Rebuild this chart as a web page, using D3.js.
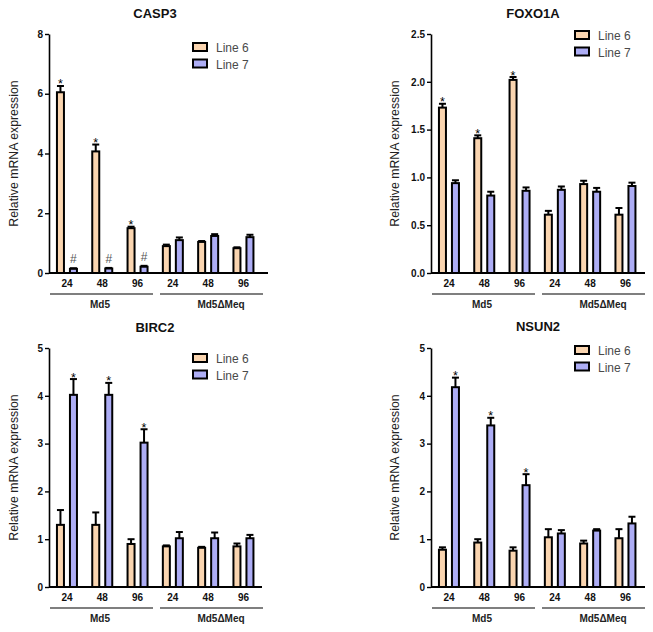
<!DOCTYPE html>
<html>
<head>
<meta charset="utf-8">
<script src="https://cdn.jsdelivr.net/npm/d3@7/dist/d3.min.js"></script>
<style>
  html, body { margin: 0; padding: 0; background: #ffffff; }
  svg { display: block; font-family: "Liberation Sans", Arial, sans-serif; }
</style>
</head>
<body>
<svg id="chart" width="653" height="632"></svg>
<script>
// ---------- data ----------
const timepoints = ["24", "48", "96", "24", "48", "96"];
const groupNames = ["Md5", "Md5\u0394Meq"];
const seriesNames = ["Line 6", "Line 7"];

const casp3Line6 = [6.05, 4.07, 1.50, 0.90, 1.04, 0.83];
const casp3Line6Err = [0.21, 0.23, 0.05, 0.05, 0.03, 0.03];
const casp3Line7 = [0.14, 0.15, 0.21, 1.10, 1.24, 1.20];
const casp3Line7Err = [0.02, 0.02, 0.03, 0.09, 0.06, 0.08];
const casp3Line6Marks = ["*", "*", "*", "", "", ""];
const casp3Line7Marks = ["#", "#", "#", "", "", ""];
const casp3Ticks = [0, 2, 4, 6, 8];

const foxo1aLine6 = [1.73, 1.41, 2.02, 0.61, 0.93, 0.61];
const foxo1aLine6Err = [0.04, 0.03, 0.03, 0.04, 0.035, 0.07];
const foxo1aLine7 = [0.94, 0.81, 0.86, 0.87, 0.85, 0.91];
const foxo1aLine7Err = [0.03, 0.04, 0.035, 0.035, 0.04, 0.035];
const foxo1aLine6Marks = ["*", "*", "*", "", "", ""];
const foxo1aLine7Marks = ["", "", "", "", "", ""];
const foxo1aTicks = [0, 0.5, 1.0, 1.5, 2.0, 2.5];

const birc2Line6 = [1.30, 1.30, 0.90, 0.85, 0.82, 0.85];
const birc2Line6Err = [0.31, 0.26, 0.10, 0.02, 0.02, 0.06];
const birc2Line7 = [4.02, 4.02, 3.02, 1.02, 1.02, 1.02];
const birc2Line7Err = [0.33, 0.25, 0.28, 0.13, 0.12, 0.07];
const birc2Line6Marks = ["", "", "", "", "", ""];
const birc2Line7Marks = ["*", "*", "*", "", "", ""];
const birc2Ticks = [0, 1, 2, 3, 4, 5];

const nsun2Line6 = [0.78, 0.93, 0.76, 1.04, 0.91, 1.02];
const nsun2Line6Err = [0.05, 0.07, 0.07, 0.17, 0.06, 0.19];
const nsun2Line7 = [4.18, 3.38, 2.13, 1.12, 1.18, 1.33];
const nsun2Line7Err = [0.20, 0.16, 0.23, 0.07, 0.03, 0.14];
const nsun2Line6Marks = ["", "", "", "", "", ""];
const nsun2Line7Marks = ["*", "*", "*", "", "", ""];
const nsun2Ticks = [0, 1, 2, 3, 4, 5];

// ---------- layout / style ----------
const colors = ["#FAD5B0", "#ADADF5"];
const panels = [
  { title: "CASP3", left: 49, right: 268, top: 34, bottom: 273, yMax: 8, ticks: casp3Ticks, fmt: d3.format("d"),
    titleX: 155, titleY: 18, legX: 192, legY: 42, ylabX: 18,
    vals: [casp3Line6, casp3Line7], errs: [casp3Line6Err, casp3Line7Err], marks: [casp3Line6Marks, casp3Line7Marks] },
  { title: "FOXO1A", left: 431, right: 645, top: 34, bottom: 273, yMax: 2.5, ticks: foxo1aTicks, fmt: d3.format(".1f"),
    titleX: 533, titleY: 18, legX: 574, legY: 30, ylabX: 399,
    vals: [foxo1aLine6, foxo1aLine7], errs: [foxo1aLine6Err, foxo1aLine7Err], marks: [foxo1aLine6Marks, foxo1aLine7Marks] },
  { title: "BIRC2", left: 49, right: 262, top: 348, bottom: 587, yMax: 5, ticks: birc2Ticks, fmt: d3.format("d"),
    titleX: 155, titleY: 332, legX: 192, legY: 353, ylabX: 18,
    vals: [birc2Line6, birc2Line7], errs: [birc2Line6Err, birc2Line7Err], marks: [birc2Line6Marks, birc2Line7Marks] },
  { title: "NSUN2", left: 431, right: 645, top: 348, bottom: 587, yMax: 5, ticks: nsun2Ticks, fmt: d3.format("d"),
    titleX: 538, titleY: 331, legX: 574, legY: 345, ylabX: 399,
    vals: [nsun2Line6, nsun2Line7], errs: [nsun2Line6Err, nsun2Line7Err], marks: [nsun2Line6Marks, nsun2Line7Marks] }
];

const svg = d3.select("#chart");
const catIdx = d3.range(timepoints.length);

panels.forEach(p => {
  const g = svg.append("g");
  const y = d3.scaleLinear().domain([0, p.yMax]).range([p.bottom, p.top]);
  const groupStep = 35.3;
  const x = d3.scaleBand().domain(catIdx).range([p.left + 0.3, p.left + 0.3 + groupStep * 6]).padding(0);
  const inner = d3.scaleBand().domain([0, 1]).range([-11, 11]).paddingInner(4 / 13).paddingOuter(0);
  const cx = i => x(i) + x.bandwidth() / 2;

  // title
  g.append("text").attr("x", p.titleX).attr("y", p.titleY).attr("text-anchor", "middle")
    .attr("font-size", 13).attr("font-weight", "bold").attr("fill", "#111").text(p.title);

  // y label
  g.append("text")
    .attr("transform", `translate(${p.ylabX},${(p.top + p.bottom) / 2}) rotate(-90)`)
    .attr("text-anchor", "middle").attr("font-size", 12.3).attr("fill", "#222")
    .text("Relative mRNA expression");

  // bars
  [0, 1].forEach(s => {
    const bw = inner.bandwidth();
    const bars = g.append("g");
    catIdx.forEach(i => {
      const v = p.vals[s][i], e = p.errs[s][i];
      const bx = cx(i) + inner(s);
      const bxm = bx + bw / 2;
      // error bar (upper)
      bars.append("line").attr("x1", bxm).attr("x2", bxm).attr("y1", y(v)).attr("y2", y(v + e))
        .attr("stroke", "#000").attr("stroke-width", 2);
      bars.append("line").attr("x1", bxm - 3.5).attr("x2", bxm + 3.5).attr("y1", y(v + e)).attr("y2", y(v + e))
        .attr("stroke", "#000").attr("stroke-width", 2);
      bars.append("rect").attr("x", bx + 1).attr("y", y(v))
        .attr("width", bw - 2).attr("height", y(0) - y(v))
        .attr("fill", colors[s]).attr("stroke", "#000").attr("stroke-width", 2);
      const m = p.marks[s][i];
      if (m === "*") {
        bars.append("text").attr("x", bxm).attr("y", y(v + e) + 2.5).attr("text-anchor", "middle")
          .attr("font-size", 12.5).attr("fill", "#000").text(m);
      } else if (m === "#") {
        bars.append("text").attr("x", bxm).attr("y", y(v + e) - 5).attr("text-anchor", "middle")
          .attr("font-size", 12).attr("fill", "#555").text(m);
      }
    });
  });

  // y axis
  const ya = g.append("g").attr("transform", `translate(${p.left},0)`)
    .call(d3.axisLeft(y).tickValues(p.ticks).tickFormat(p.fmt).tickSize(4).tickPadding(2).tickSizeOuter(0));
  ya.select(".domain").attr("stroke", "#000").attr("stroke-width", 1.6);
  ya.selectAll(".tick line").attr("stroke", "#000").attr("stroke-width", 1.4);
  ya.selectAll(".tick text").attr("font-size", 10).attr("font-weight", "bold").attr("fill", "#111")
    .attr("font-family", "Liberation Sans, Arial, sans-serif");

  // x axis line
  g.append("line").attr("x1", p.left).attr("x2", p.right).attr("y1", p.bottom).attr("y2", p.bottom)
    .attr("stroke", "#000").attr("stroke-width", 1.8);

  // x tick labels
  catIdx.forEach(i => {
    g.append("text").attr("x", cx(i)).attr("y", p.bottom + 14).attr("text-anchor", "middle")
      .attr("font-size", 10).attr("font-weight", "bold").attr("fill", "#111").text(timepoints[i]);
  });

  // group underlines and labels
  const grp = [[p.left + 1, p.left + 104, p.left + 51], [p.left + 111, p.left + 214, p.left + 172]];
  grp.forEach((gr, k) => {
    g.append("line").attr("x1", gr[0]).attr("x2", gr[1]).attr("y1", p.bottom + 21).attr("y2", p.bottom + 21)
      .attr("stroke", "#000").attr("stroke-width", 1.2);
    g.append("text").attr("x", gr[2]).attr("y", p.bottom + 35).attr("text-anchor", "middle")
      .attr("font-size", 10).attr("font-weight", "bold").attr("fill", "#222").text(groupNames[k]);
  });

  // legend
  seriesNames.forEach((name, s) => {
    const ly = p.legY + s * 16.5;
    g.append("rect").attr("x", p.legX + 1).attr("y", ly + 1).attr("width", 14).attr("height", 8)
      .attr("fill", colors[s]).attr("stroke", "#000").attr("stroke-width", 2);
    g.append("text").attr("x", p.legX + 24).attr("y", ly + 10).attr("font-size", 12).attr("fill", "#4a4a4a").text(name);
  });
});
</script>
</body>
</html>
